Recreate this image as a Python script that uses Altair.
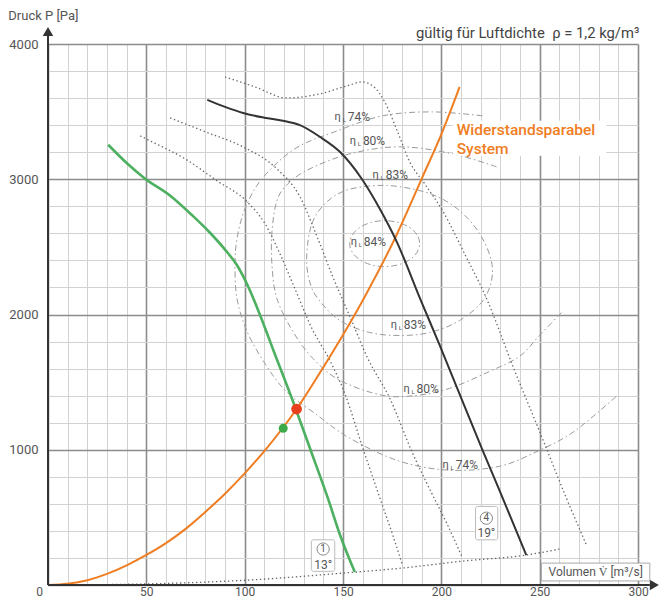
import altair as alt
import pandas as pd

# ---------------- values ----------------
X_DOMAIN = [0, 300]
Y_DOMAIN = [0, 4000]
x_grid_values = list(range(0, 301, 10))
y_grid_values = list(range(0, 4001, 200))

# fan curve 1 (13 deg, green) and fan curve 4 (19 deg, black)
green_q = [30.6, 40, 49.4, 62, 73.5, 82, 90, 96.2, 102, 107.9, 114.5, 124.5, 133.2, 142.3, 148.5, 156]
green_p = [3255, 3120, 3004, 2880, 2731, 2610, 2480, 2362, 2200, 1993, 1740, 1360, 1011, 642, 370, 96]
black_q = [81, 90, 99.2, 110, 119.4, 128.1, 138.2, 148.4, 159.5, 168.7, 177.3, 189.2, 199.2, 208.1, 221, 229.1, 243.2]
black_p = [3587, 3535, 3490, 3455, 3432, 3400, 3314, 3203, 3004, 2782, 2539, 2118, 1771, 1454, 996, 716, 221]

# system resistance parabola (orange)
orange_q = [0, 10, 20, 30, 40, 50, 60, 70, 80, 90, 100, 110, 126.4, 140, 161, 177.3, 190.5, 200.2, 209.3]
orange_p = [0, 9, 35, 82, 145, 222, 310, 415, 540, 675, 825, 990, 1301, 1610, 2130, 2590, 3020, 3340, 3683]

# operating points
red_q, red_p = [126.4], [1301]
grn_q, grn_p = [119.6], [1159]

# dotted intermediate blade-angle curves and lower limit
dot_b_q = [46.9, 51.9, 69.7, 85.9, 101.2, 110.3, 117.9, 125.5, 134.2, 143.3, 150.9, 160.1, 168.8, 175.3, 180.4]
dot_b_p = [3321, 3284, 3151, 2989, 2834, 2672, 2450, 2192, 1897, 1661, 1417, 1011, 642, 369, 140]
dot_a_q = [62.1, 79.9, 99.1, 116.4, 128.1, 137.2, 144.8, 153.5, 162.6, 173.8, 185.4, 195.1, 202.7, 210.8]
dot_a_p = [3454, 3351, 3240, 3077, 2871, 2561, 2280, 1985, 1675, 1380, 974, 679, 458, 199]
dot_c_q = [90.0, 105.2, 121.5, 138.2, 153.5, 159.6, 165.7, 171.2, 177.8, 183.9, 191.5, 200.6, 211.8, 223.0, 236.2, 249.9, 263.6, 273.8]
dot_c_p = [3756, 3683, 3601, 3631, 3697, 3720, 3683, 3572, 3350, 3129, 2967, 2768, 2450, 2118, 1624, 1137, 642, 295]
dot_base_q = [0, 50, 100, 150, 180, 211, 243, 260]
dot_base_p = [0, 8, 35, 88, 125, 177, 221, 266]

# efficiency contours (dash-dot)
eff84_q = [189.0, 187.6, 183.8, 178.0, 171.2, 164.4, 158.6, 154.8, 153.4, 154.8, 158.6, 164.4, 171.2, 178.0, 183.8, 187.6]
eff84_p = [2524, 2589, 2644, 2681, 2694, 2681, 2644, 2589, 2524, 2459, 2404, 2367, 2354, 2367, 2404, 2459]
eff83_q = [131.6, 134.2, 140.8, 150.9, 165.1, 178.8, 195.6, 209.3, 220.4, 226.0, 221.9, 209.3, 194.1, 178.8, 163.6, 148.4, 137.2, 132.6]
eff83_p = [2450, 2672, 2819, 2915, 2952, 2945, 2886, 2768, 2576, 2339, 2118, 1956, 1867, 1845, 1867, 1956, 2118, 2266]
eff80_q = [228.1, 205.7, 178.8, 153.5, 133.1, 122.0, 116.4, 113.9, 113.9, 116.4, 124.5, 134.7, 148.4, 170.2, 187.5, 204.2, 224.5, 239.7, 249.9, 261.6]
eff80_p = [3092, 3188, 3240, 3188, 3077, 2967, 2841, 2613, 2362, 2118, 1875, 1675, 1513, 1402, 1402, 1454, 1579, 1690, 1845, 2022]
eff74_q = [220.9, 195.6, 170.2, 145.8, 125.5, 108.8, 100.2, 96.1, 95.1, 96.1, 101.2, 110.3, 121.0, 135.7, 153.5, 178.8, 204.2, 229.6, 249.9, 267.7, 289.0]
eff74_p = [3469, 3498, 3469, 3351, 3225, 3004, 2782, 2561, 2362, 2118, 1875, 1638, 1432, 1269, 1085, 915, 849, 878, 996, 1137, 1395]

eta_pct = ["74%", "80%", "83%", "84%", "83%", "80%", "74%"]
eta_q = [151.9, 159.6, 171.2, 160.1, 180.4, 186.9, 206.8]
eta_p = [3461, 3284, 3033, 2539, 1926, 1447, 886]

# annotation texts and their anchors
sys_text = ["Widerstandsparabel", "System"]
sys_q = [207.8, 207.8]
sys_p = [3365, 3225]
sys_box = {"q": [205.9], "q2": [283.9], "p": [3173], "p2": [3432]}

curve_no = ["1", "4"]
curve_angle = ["13°", "19°"]
cbox_q = [133.9, 217.4]
cbox_q2 = [145.8, 228.7]
cbox_p = [101, 334]
cbox_p2 = [334, 581]
cno_q = [139.9, 222.9]
cno_p = [266, 494]
cang_p = [145, 384]

xtitle = ["Volumen V\u0307 [m³/s]"]
xtitle_box = {"q": [250.9], "q2": [306.0], "p": [30], "p2": [162]}
xtitle_pos = ([278.5], [96])
ytitle = ["Druck P [Pa]"]
ytitle_pos = ([-20.2], [4205])
top_note = ["gültig für Luftdichte\u00a0\u00a0ρ = 1,2 kg/m³"]
top_note_pos = ([300.7], [4074])

# axis lines with arrows
yaxis_line = {"q": [0], "p": [0], "p2": [4070]}
xaxis_line = {"q": [0], "q2": [306], "p": [0]}
arrow_up = ([0], [4092])
arrow_right = ([308.3], [0])

FONT = "Roboto"
TXT = "#555555"

# ---------------- scales / axes ----------------
xscale = alt.Scale(domain=X_DOMAIN, nice=False, zero=False)
yscale = alt.Scale(domain=Y_DOMAIN, nice=False, zero=False)

major_x = "datum.value % 50 === 0"
major_y = "datum.value % 1000 === 0"
x_axis = alt.Axis(
    values=x_grid_values, title=None, grid=True, domain=False, ticks=False, format="d",
    labelExpr=f"{major_x} ? datum.label : ''",
    gridColor={"condition": {"test": major_x, "value": "#8c8c8c"}, "value": "#d2d2d2"},
    gridWidth={"condition": {"test": major_x, "value": 1.6}, "value": 1},
    labelFont=FONT, labelFontSize=12, labelColor=TXT, labelPadding=6, labelBaseline="middle",
    labelOffset={"condition": {"test": "datum.value === 0", "value": -9}, "value": 0},
    labelFlush=False, labelOverlap=False,
)
y_axis = alt.Axis(
    values=y_grid_values, title=None, grid=True, domain=False, ticks=False, format="d",
    labelExpr=f"{major_y} && datum.value > 0 ? datum.label : ''",
    gridColor={"condition": {"test": major_y, "value": "#8c8c8c"}, "value": "#d2d2d2"},
    gridWidth={"condition": {"test": major_y, "value": 1.6}, "value": 1},
    labelFont=FONT, labelFontSize=13, labelColor=TXT, labelPadding=10,
    labelFlush=False, labelOverlap=False,
)


def X(f="q"):
    return alt.X(f"{f}:Q", scale=xscale, axis=x_axis)


def Y(f="p"):
    return alt.Y(f"{f}:Q", scale=yscale, axis=y_axis)


def df(q, p, **extra):
    d = {"q": q, "p": p}
    d.update(extra)
    d["i"] = list(range(len(q)))
    return pd.DataFrame(d)


layers = []

# grid carrier (invisible) so axes exist
layers.append(alt.Chart(df([0, 300], [0, 4000])).mark_point(opacity=0).encode(x=X(), y=Y()))


def curve(q, p, color, width, dash=None, interp="monotone"):
    kw = dict(color=color, strokeWidth=width, interpolate=interp)
    if dash:
        kw["strokeDash"] = dash
    return alt.Chart(df(q, p)).mark_line(**kw).encode(x=X(), y=Y(), order="i:Q")


DOT = [1.4, 2.6]
DASHDOT = [6, 3, 1.5, 3]
DOTC = "#666666"
EFFC = "#9a9a9a"

# efficiency contours
layers.append(curve(eff84_q, eff84_p, EFFC, 1, DASHDOT, "cardinal-closed"))
layers.append(curve(eff83_q, eff83_p, EFFC, 1, DASHDOT, "cardinal-closed"))
layers.append(curve(eff80_q, eff80_p, EFFC, 1, DASHDOT, "cardinal"))
layers.append(curve(eff74_q, eff74_p, EFFC, 1, DASHDOT, "cardinal"))

# dotted curves
layers.append(curve(dot_b_q, dot_b_p, DOTC, 1.3, DOT))
layers.append(curve(dot_a_q, dot_a_p, DOTC, 1.3, DOT))
layers.append(curve(dot_c_q, dot_c_p, DOTC, 1.3, DOT))
layers.append(curve(dot_base_q, dot_base_p, DOTC, 1.3, DOT))

# white label background for the parabola label
layers.append(
    alt.Chart(pd.DataFrame(sys_box)).mark_rect(fill="white")
    .encode(x=X("q"), x2="q2:Q", y=Y("p"), y2="p2:Q")
)

# main curves
layers.append(curve(orange_q, orange_p, "#EF7D22", 2))
layers.append(curve(green_q, green_p, "#4DB060", 2.6))
layers.append(curve(black_q, black_p, "#333333", 2))

# operating points
layers.append(alt.Chart(df(grn_q, grn_p)).mark_point(filled=True, color="#3DAA4A", size=80, opacity=1).encode(x=X(), y=Y()))
layers.append(alt.Chart(df(red_q, red_p)).mark_point(filled=True, color="#E8401C", size=115, opacity=1).encode(x=X(), y=Y()))

# efficiency labels
eta_df = df(eta_q, eta_p, t=eta_pct)
layers.append(alt.Chart(eta_df).mark_text(font=FONT, fontSize=12, color=TXT, align="left", baseline="middle", dx=1)
              .encode(x=X(), y=Y(), text="t:N"))
layers.append(alt.Chart(eta_df).mark_text(font=FONT, fontSize=11, color=TXT, align="center", baseline="middle", dx=-9)
              .encode(x=X(), y=Y(), text=alt.value("η")))
layers.append(alt.Chart(eta_df).mark_text(font=FONT, fontSize=6, color=TXT, align="center", baseline="middle", dx=-2.5, dy=3)
              .encode(x=X(), y=Y(), text=alt.value("L")))

# parabola label
layers.append(alt.Chart(df(sys_q, sys_p, t=sys_text)).mark_text(
    font=FONT, fontSize=15.5, fontWeight=500, color="#EF7D22", align="left", baseline="middle")
    .encode(x=X(), y=Y(), text="t:N"))

# curve number boxes
cb = pd.DataFrame({"q": cbox_q, "q2": cbox_q2, "p": cbox_p, "p2": cbox_p2})
layers.append(alt.Chart(cb).mark_rect(fill="white", stroke="#bbbbbb", strokeWidth=1, cornerRadius=2)
              .encode(x=X("q"), x2="q2:Q", y=Y("p"), y2="p2:Q"))
cn = df(cno_q, cno_p, t=curve_no)
layers.append(alt.Chart(cn).mark_point(shape="circle", filled=False, color="#888888", size=150, strokeWidth=1, opacity=1)
              .encode(x=X(), y=Y()))
layers.append(alt.Chart(cn).mark_text(font=FONT, fontSize=10, color=TXT, baseline="middle")
              .encode(x=X(), y=Y(), text="t:N"))
layers.append(alt.Chart(df(cno_q, cang_p, t=curve_angle)).mark_text(font=FONT, fontSize=12, color=TXT, baseline="middle")
              .encode(x=X(), y=Y(), text="t:N"))

# axis lines and arrows
layers.append(alt.Chart(pd.DataFrame(yaxis_line)).mark_rule(color="#333333", strokeWidth=2)
              .encode(x=X("q"), y=Y("p"), y2="p2:Q"))
layers.append(alt.Chart(pd.DataFrame(xaxis_line)).mark_rule(color="#333333", strokeWidth=2)
              .encode(x=X("q"), x2="q2:Q", y=Y("p")))
layers.append(alt.Chart(df(*arrow_up)).mark_point(shape="triangle-up", filled=True, color="#333333", size=110, opacity=1)
              .encode(x=X(), y=Y()))
layers.append(alt.Chart(df(*arrow_right)).mark_point(shape="triangle-right", filled=True, color="#333333", size=110, opacity=1)
              .encode(x=X(), y=Y()))

# x title box
layers.append(alt.Chart(pd.DataFrame(xtitle_box)).mark_rect(fill="white", stroke="#aaaaaa", strokeWidth=1)
              .encode(x=X("q"), x2="q2:Q", y=Y("p"), y2="p2:Q"))
layers.append(alt.Chart(df(*xtitle_pos, t=xtitle)).mark_text(font=FONT, fontSize=12, color=TXT, baseline="middle")
              .encode(x=X(), y=Y(), text="t:N"))
# y title and note
layers.append(alt.Chart(df(*ytitle_pos, t=ytitle)).mark_text(font=FONT, fontSize=13, color=TXT, align="left", baseline="middle")
              .encode(x=X(), y=Y(), text="t:N"))
layers.append(alt.Chart(df(*top_note_pos, t=top_note)).mark_text(font=FONT, fontSize=14.8, color="#444444", align="right", baseline="middle")
              .encode(x=X(), y=Y(), text="t:N"))

chart = alt.layer(*layers).properties(
    width=590, height=541,
    padding={"left": 40, "top": 36, "right": 24, "bottom": 13},
    autosize=alt.AutoSizeParams(type="none"),
).configure_view(stroke=None)

chart.save("out.html", embed_options={"renderer": "svg", "actions": False})
